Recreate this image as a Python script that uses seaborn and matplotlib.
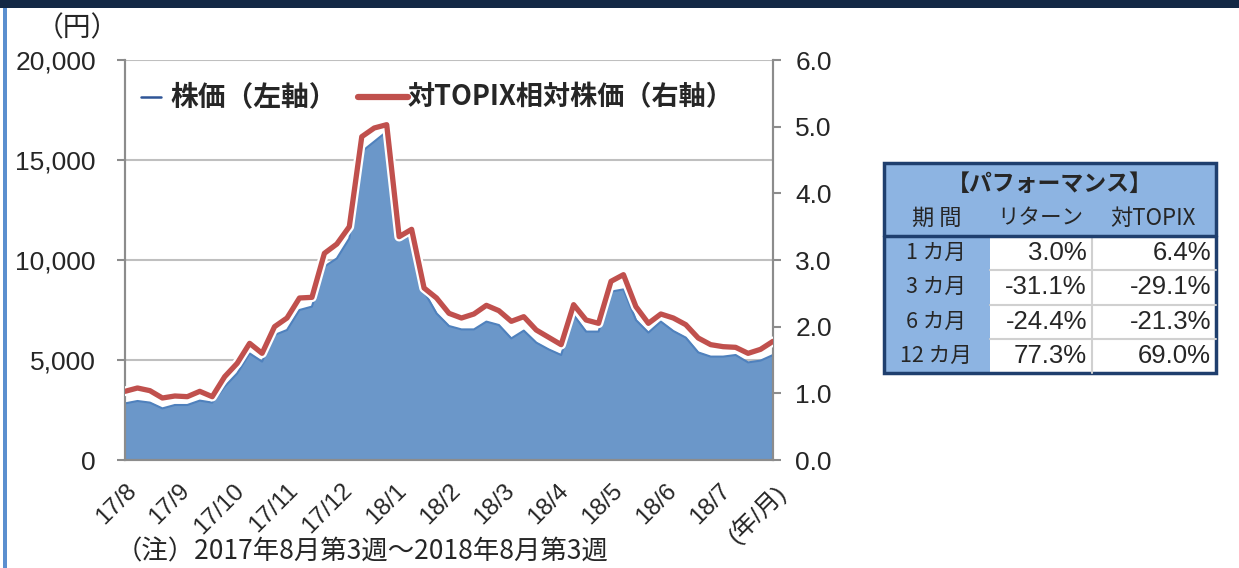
import numpy as np
import pandas as pd
import matplotlib
matplotlib.use("Agg")
import matplotlib.pyplot as plt
import matplotlib.patheffects as pe
import seaborn as sns

# weekly data, 2017/8 week 3 - 2018/8 week 3
price = [2830, 2950, 2870, 2580, 2750, 2750, 2970, 2870, 3670, 4330,
         5330, 4920, 6250, 6500, 7500, 7670, 9670, 10080, 11080, 15420,
         15920, 16420, 11000, 11250, 8420, 7330, 6700, 6530, 6530, 6920,
         6750, 6080, 6470, 5870, 5530, 5250, 7250, 6420, 6420, 8420,
         8530, 7000, 6370, 6920, 6450, 6120, 5380, 5170, 5170, 5250,
         4880, 4970, 5250]
rel_topix = [1.03, 1.08, 1.04, 0.93, 0.96, 0.95, 1.03, 0.95, 1.25, 1.45,
             1.75, 1.60, 2.00, 2.13, 2.43, 2.44, 3.10, 3.24, 3.50, 4.85,
             4.98, 5.03, 3.35, 3.46, 2.58, 2.43, 2.20, 2.13, 2.19, 2.32,
             2.24, 2.08, 2.15, 1.95, 1.84, 1.73, 2.33, 2.10, 2.05, 2.68,
             2.78, 2.30, 2.05, 2.19, 2.13, 2.03, 1.83, 1.73, 1.70, 1.69,
             1.60, 1.66, 1.78]
month_labels = ["17/8", "17/9", "17/10", "17/11", "17/12", "18/1", "18/2",
                "18/3", "18/4", "18/5", "18/6", "18/7", "(年/月)"]

periods = ["1 カ月", "3 カ月", "6 カ月", "12 カ月"]
ret = ["3.0%", "-31.1%", "-24.4%", "77.3%"]
vs_topix = ["6.4%", "-29.1%", "-21.3%", "69.0%"]

df = pd.DataFrame({"week": np.arange(len(price)), "price": price, "rel": rel_topix})

sns.set_style("white")
plt.rcParams['font.family'] = ['Liberation Sans', 'Noto Sans CJK JP', 'DejaVu Sans']
jp = ['Noto Sans CJK JP', 'DejaVu Sans']

fig = plt.figure(figsize=(12.39, 5.68), dpi=100)
ax = fig.add_axes([125/1239, 1-460/568, 648/1239, 400/568])
ax2 = ax.twinx()

# area + line for price
ax.fill_between(df["week"], df["price"], color="#6B97C9", zorder=2)
sns.lineplot(data=df, x="week", y="price", ax=ax, color="#4F81BD", lw=1.5, zorder=3)
ax.plot([52, 52], [0, price[-1]], color="#4F81BD", lw=1.5, zorder=3)

sns.lineplot(data=df, x="week", y="rel", ax=ax2, color="#C0504D", lw=3.8,
             path_effects=[pe.withStroke(linewidth=7, foreground="white")], zorder=4)

ax.set_xlim(0, 52)
ax.set_ylim(0, 20000)
ax2.set_ylim(0, 6)
ax.set_yticks([0, 5000, 10000, 15000, 20000])
ax.set_yticklabels(["0", "5,000", "10,000", "15,000", "20,000"], fontsize=19)
ax2.set_yticks(np.arange(0, 6.1, 1.0))
ax2.set_yticklabels([f"{v:.1f}" for v in np.arange(0, 6.1, 1.0)], fontsize=19)
ax.set_xticks(np.linspace(0, 52, 13))
ax.set_xticklabels(month_labels, rotation=45, ha="right", rotation_mode="anchor",
                   fontsize=17.5, family=['Liberation Sans Narrow', 'Liberation Sans', 'Noto Sans CJK JP'])
ax.set_xlabel("")
ax.set_ylabel("")
ax2.set_ylabel("")

ax.yaxis.grid(True, color="#BFBFBF", lw=1.5, zorder=0)
ax.set_axisbelow(True)
for a in (ax, ax2):
    for s in a.spines.values():
        s.set_color("#8C8C8C")
        s.set_linewidth(1.5)
    a.spines["top"].set_visible(False)
ax.tick_params(axis="both", direction="out", length=6, width=1.5, color="#8C8C8C")
ax.tick_params(axis="y", pad=15)
ax.tick_params(axis="x", pad=8)
ax2.tick_params(axis="y", direction="out", length=6, width=1.5, color="#8C8C8C", pad=10)

# legend
fig.add_artist(plt.Line2D([141/1239, 161/1239], [1-97/568, 1-97/568], color="#2F5597", lw=1.8))
fig.text(170/1239, 1-97/568, "株価（左軸）", fontsize=20, weight="bold", va="center", family=jp)
fig.add_artist(plt.Line2D([358/1239, 408/1239], [1-97/568, 1-97/568], color="#C0504D", lw=4.5,
                          solid_capstyle="round"))
fig.text(408/1239, 1-97/568, "対TOPIX相対株価（右軸）", fontsize=19.5, weight="bold", va="center", family=jp)

fig.text(36/1239, 1-28/568, "（円）", fontsize=20, va="center", family=jp)
fig.text(116/1239, 1-552/568, "（注）2017年8月第3週～2018年8月第3週", fontsize=19, va="center", family=jp)

# top banner and left border
fig.add_artist(plt.Rectangle((0, 1-8/568), 1, 8/568, transform=fig.transFigure,
                             color="#132845", lw=0))
fig.add_artist(plt.Rectangle((3/1239, 0), 4/1239, 1-8/568, transform=fig.transFigure,
                             color="#5B8FCF", lw=0))

# performance table
def px(x):
    return x/1239

def py(y):
    return 1-y/568

tblue = "#8DB4E2"
navy = "#1F3F6E"
L, R, T, B = 884, 1216, 163, 373
c1, c2 = 990, 1092
hb = 236
rh = (B-hb)/4
fig.add_artist(plt.Rectangle((px(L), py(hb)), px(R-L), (hb-T)/568, transform=fig.transFigure,
                             color=tblue, lw=0))
fig.add_artist(plt.Rectangle((px(L), py(B)), px(c1-L), (B-hb)/568, transform=fig.transFigure,
                             color=tblue, lw=0))
for i in range(1, 4):
    y = hb + rh*i
    fig.add_artist(plt.Line2D([px(c1), px(R)], [py(y), py(y)], color="#D0D0D0", lw=1.5))
fig.add_artist(plt.Line2D([px(c2), px(c2)], [py(hb), py(B)], color="#D0D0D0", lw=1.5))
fig.add_artist(plt.Line2D([px(L), px(R)], [py(hb), py(hb)], color=navy, lw=2.5))
fig.add_artist(plt.Rectangle((px(L), py(B)), px(R-L), (B-T)/568, transform=fig.transFigure,
                             fill=False, edgecolor=navy, lw=2.5))

fig.text(px((L+R)/2), py(184), "【パフォーマンス】", fontsize=16.5, weight="bold", ha="center",
         va="center", family=jp)
fig.text(px(937), py(218), "期 間", fontsize=16, ha="center", va="center", family=jp)
fig.text(px(1040), py(218), "リターン", fontsize=15.5, ha="center", va="center", family=jp)
fig.text(px(1153), py(218), "対TOPIX", fontsize=16, ha="center", va="center", family=jp)
for i in range(4):
    y = hb + rh*(i+0.5)
    fig.text(px(936), py(y), periods[i], fontsize=15.5, ha="center", va="center", family=jp)
    fig.text(px(1087), py(y), ret[i], fontsize=18.5, ha="right", va="center")
    fig.text(px(1211), py(y), vs_topix[i], fontsize=18.5, ha="right", va="center")

fig.savefig("out.png", dpi=100)
